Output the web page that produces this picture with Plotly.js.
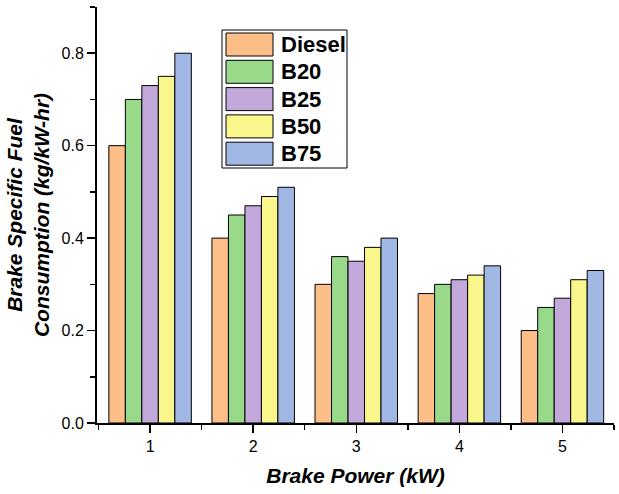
<!DOCTYPE html>
<html>
<head>
<meta charset="utf-8">
<script src="https://cdn.plot.ly/plotly-3.0.1.min.js"></script>
<style>
  html, body { margin: 0; padding: 0; background: #fff; }
  #chart { width: 619px; height: 494px; }
</style>
</head>
<body>
<div id="chart"></div>
<script>
// brake power (kW)
const brakePower = [1, 2, 3, 4, 5];

// BSFC in kg/kW-hr for each fuel blend
const diesel = [0.60, 0.40, 0.30, 0.28, 0.20];
const b20    = [0.70, 0.45, 0.36, 0.30, 0.25];
const b25    = [0.73, 0.47, 0.35, 0.31, 0.27];
const b50    = [0.75, 0.49, 0.38, 0.32, 0.31];
const b75    = [0.80, 0.51, 0.40, 0.34, 0.33];

const fuelNames  = ['Diesel', 'B20', 'B25', 'B50', 'B75'];
const fuelColors = ['#FDBF87', '#98DA8A', '#C3A8DC', '#F9F78C', '#A2B8E4'];
const fuelValues = [diesel, b20, b25, b50, b75];

const font = 'Arial, "Liberation Sans", sans-serif';

let traces = fuelNames.map((name, i) => ({
  type: 'bar',
  name: name,
  x: brakePower,
  y: fuelValues[i],
  marker: { color: fuelColors[i], line: { color: '#000', width: 1 } }
}));

// plot area in px, used to place the boxed legend (big swatches like Origin)
const plotL = 97, plotT = 7, plotW = 517, plotH = 416;
const px = v => (v - plotL) / plotW;
const py = v => (plotT + plotH - v) / plotH;

let shapes = [{
  type: 'rect', xref: 'paper', yref: 'paper',
  x0: px(222), x1: px(347), y0: py(168), y1: py(30),
  line: { color: '#000', width: 1 }, fillcolor: '#fff', layer: 'above'
}];
let annotations = [];
fuelNames.forEach((name, i) => {
  let top = 33 + i * 27.3;
  shapes.push({
    type: 'rect', xref: 'paper', yref: 'paper',
    x0: px(226), x1: px(273), y0: py(top + 23), y1: py(top),
    line: { color: '#000', width: 1 }, fillcolor: fuelColors[i], layer: 'above'
  });
  annotations.push({
    xref: 'paper', yref: 'paper', x: px(279), y: py(top + 11.5),
    xanchor: 'left', yanchor: 'middle', showarrow: false,
    text: name, font: { size: 22, family: font, weight: 'bold', color: '#000' }
  });
});

let layout = {
  width: 619,
  height: 494,
  margin: { l: plotL, r: 619 - plotL - plotW, t: plotT, b: 494 - plotT - plotH },
  paper_bgcolor: '#fff',
  plot_bgcolor: '#fff',
  font: { family: font, color: '#000' },
  barmode: 'group',
  bargap: 0.2,
  bargroupgap: 0,
  showlegend: false,
  shapes: shapes,
  annotations: annotations,
  xaxis: {
    range: [0.485, 5.5],
    tickvals: brakePower,
    ticktext: brakePower.map(String),
    ticks: 'outside', ticklen: 8, tickwidth: 1.5, tickcolor: '#000',
    minor: { tickvals: [0.5, 1.5, 2.5, 3.5, 4.5, 5.5], ticks: 'outside', ticklen: 5, tickwidth: 1.5, tickcolor: '#000' },
    showline: true, linecolor: '#000', linewidth: 2,
    showgrid: false, zeroline: false,
    tickfont: { size: 16, family: font },
    title: { text: 'Brake Power (kW)', font: { size: 21, family: font, weight: 'bold', style: 'italic' }, standoff: 14 }
  },
  yaxis: {
    range: [0, 0.9],
    tickvals: [0, 0.2, 0.4, 0.6, 0.8],
    tickformat: '.1f',
    ticks: 'outside', ticklen: 8, tickwidth: 1.5, tickcolor: '#000',
    minor: { tickvals: [0.1, 0.3, 0.5, 0.7, 0.9], ticks: 'outside', ticklen: 5, tickwidth: 1.5, tickcolor: '#000' },
    showline: true, linecolor: '#000', linewidth: 2,
    showgrid: false, zeroline: false,
    tickfont: { size: 16, family: font },
    title: { text: 'Brake Specific Fuel<br>Consumption (kg/kW-hr)', font: { size: 21, family: font, weight: 'bold', style: 'italic' }, standoff: 6 }
  }
};

Plotly.newPlot('chart', traces, layout, { displayModeBar: false, staticPlot: true });
</script>
</body>
</html>
